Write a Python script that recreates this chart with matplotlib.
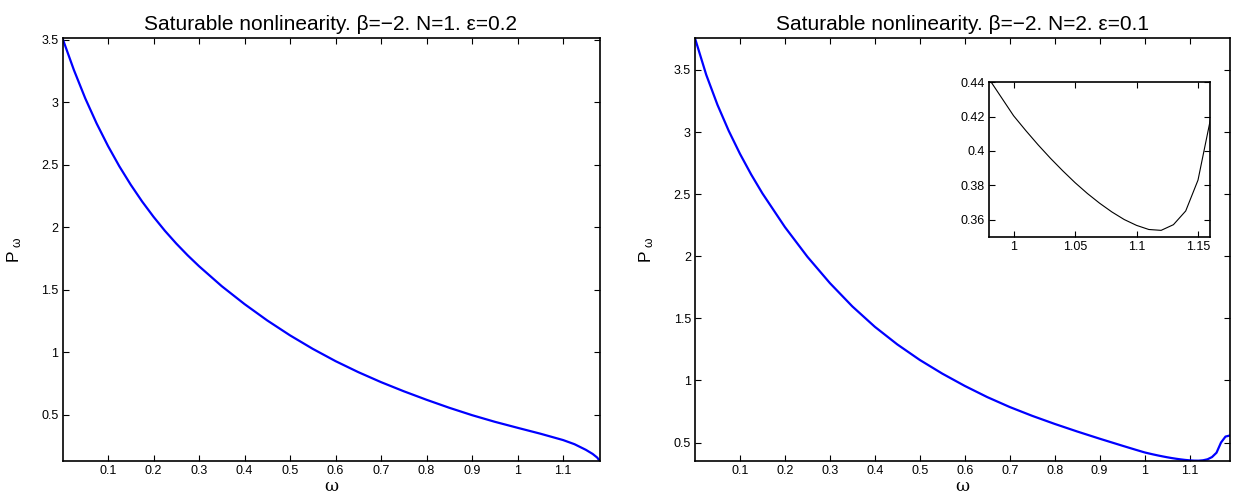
import matplotlib
matplotlib.use("Agg")
import matplotlib.pyplot as plt

plt.rcParams['font.family'] = ['Liberation Sans', 'DejaVu Sans']
plt.rcParams['mathtext.fontset'] = 'custom'
plt.rcParams['mathtext.rm'] = 'Liberation Sans'
plt.rcParams['mathtext.it'] = 'Liberation Sans'

# ---- data ----
omega_left = [0.000, 0.025, 0.050, 0.075, 0.100, 0.125, 0.150, 0.175, 0.200, 0.225,
              0.250, 0.275, 0.300, 0.350, 0.400, 0.450, 0.500, 0.550, 0.600, 0.650,
              0.700, 0.750, 0.800, 0.850, 0.900, 0.950, 1.000, 1.050, 1.100, 1.125,
              1.150, 1.165, 1.175, 1.180]
P_left = [3.510, 3.257, 3.030, 2.829, 2.649, 2.486, 2.339, 2.205, 2.083, 1.971,
          1.869, 1.775, 1.688, 1.528, 1.385, 1.254, 1.135, 1.027, 0.929, 0.841,
          0.761, 0.688, 0.620, 0.556, 0.497, 0.444, 0.396, 0.349, 0.298, 0.265,
          0.220, 0.187, 0.158, 0.133]

omega_right = [0.000, 0.025, 0.050, 0.075, 0.100, 0.125, 0.150, 0.200, 0.250, 0.300,
               0.350, 0.400, 0.450, 0.500, 0.550, 0.600, 0.650, 0.700, 0.750, 0.800,
               0.850, 0.900, 0.950, 0.980, 1.000, 1.010, 1.020, 1.030, 1.040, 1.050,
               1.060, 1.070, 1.080, 1.090, 1.100, 1.110, 1.120, 1.130, 1.140, 1.150,
               1.160, 1.170, 1.180, 1.190]
P_right = [3.755, 3.461, 3.219, 3.010, 2.825, 2.658, 2.506, 2.235, 1.996, 1.784,
           1.596, 1.432, 1.290, 1.165, 1.055, 0.956, 0.866, 0.786, 0.715, 0.650,
           0.589, 0.531, 0.475, 0.442, 0.4205, 0.4118, 0.4035, 0.3957, 0.3884, 0.3815,
           0.3752, 0.3695, 0.3644, 0.3600, 0.3566, 0.3542, 0.3537, 0.3570, 0.3650, 0.3830,
           0.4180, 0.5000, 0.5480, 0.5570]

titles = ["Saturable nonlinearity. \u03b2=\u22122. N=1. \u03b5=0.2",
          "Saturable nonlinearity. \u03b2=\u22122. N=2. \u03b5=0.1"]
xticks_main = [0.1, 0.2, 0.3, 0.4, 0.5, 0.6, 0.7, 0.8, 0.9, 1.0, 1.1]
xticklabels_main = ["0.1", "0.2", "0.3", "0.4", "0.5", "0.6", "0.7", "0.8", "0.9", "1", "1.1"]
yticks_main = [0.5, 1.0, 1.5, 2.0, 2.5, 3.0, 3.5]
yticklabels_main = ["0.5", "1", "1.5", "2", "2.5", "3", "3.5"]
inset_xlim = (0.98, 1.16)
inset_ylim = (0.35, 0.44)
inset_xticks = [1.0, 1.05, 1.1, 1.15]
inset_xticklabels = ["1", "1.05", "1.1", "1.15"]
inset_yticks = [0.36, 0.38, 0.40, 0.42, 0.44]
inset_yticklabels = ["0.36", "0.38", "0.4", "0.42", "0.44"]

W, H = 1237, 495
fig = plt.figure(figsize=(W / 100, H / 100), dpi=100)


def style(ax, fs=9):
    ax.tick_params(direction='in', top=True, right=True, length=4.5, width=0.8,
                   labelsize=fs, pad=3, colors='black')
    for s in ax.spines.values():
        s.set_linewidth(1.2)
        s.set_color('black')


def axrect(x0, x1, ytop, ybot):
    return [x0 / W, (H - ybot) / H, (x1 - x0) / W, (ybot - ytop) / H]


ax1 = fig.add_axes(axrect(62.5, 599.5, 38.3, 460.7))
ax2 = fig.add_axes(axrect(695, 1230, 38.3, 460.7))

for ax, om, P, t, xmax in [(ax1, omega_left, P_left, titles[0], 1.18),
                           (ax2, omega_right, P_right, titles[1], 1.19)]:
    ax.plot(om, P, color='#0000ff', lw=1.6, solid_joinstyle='round')
    ax.set_xlim(0, xmax)
    ax.set_ylim(min(P), max(P))
    ax.set_xticks(xticks_main)
    ax.set_xticklabels(xticklabels_main)
    ax.set_yticks(yticks_main)
    ax.set_yticklabels(yticklabels_main)
    style(ax)
    ax.set_title(t, fontsize=15, pad=6)
    ax.set_xlabel("\u03c9", fontsize=12.5, labelpad=1, family=['DejaVu Serif'])
    ax.set_ylabel(r"P$_{\ \omega}$", fontsize=12.5)
    ax.yaxis.set_label_coords(-0.072, 0.5)

# inset
axi = fig.add_axes(axrect(989, 1210.3, 82.3, 236.7))
axi.plot(omega_right, P_right, color='black', lw=0.8)
axi.set_xlim(*inset_xlim)
axi.set_ylim(*inset_ylim)
axi.set_xticks(inset_xticks)
axi.set_xticklabels(inset_xticklabels)
axi.set_yticks(inset_yticks)
axi.set_yticklabels(inset_yticklabels)
style(axi, fs=9)

fig.savefig("out.png", dpi=100, facecolor='white')
